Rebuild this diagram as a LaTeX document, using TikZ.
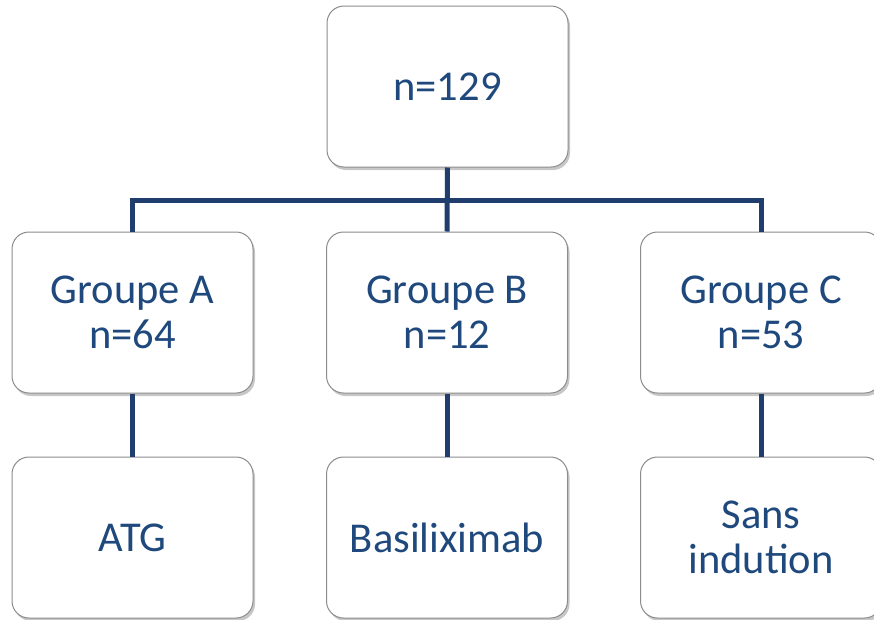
\documentclass[tikz,border=0pt]{standalone}
\usepackage{fontspec}
\setmainfont{Carlito}
\usetikzlibrary{shadows}
\definecolor{txtblue}{HTML}{1F497D}
\definecolor{lnblue}{HTML}{1F3E6E}
\definecolor{boxborder}{HTML}{8C8C8C}
\tikzset{
  card/.style={draw=boxborder, line width=1pt, fill=white, rounded corners=17pt,
    minimum width=241pt, minimum height=161pt, inner sep=0pt, align=center,
    text=txtblue, font=\fontsize{42.5}{45}\selectfont,
    drop shadow={shadow xshift=2pt, shadow yshift=-3pt, opacity=0.22, fill=black}},
  conn/.style={draw=lnblue, line width=5pt}
}
\begin{document}
\begin{tikzpicture}[x=1pt,y=-1pt]
\useasboundingbox[fill=white] (0,0) rectangle (874,619);
\node[card] (top) at (447.5,86.5) {n=129};
\node[card] (ga) at (132.5,312.5) {Groupe A\\n=64};
\node[card] (gb) at (447,312.5) {Groupe B\\n=12};
\node[card] (gc) at (761,312.5) {Groupe C\\n=53};
\node[card] (ba) at (132.5,537.5) {ATG};
\node[card] (bb) at (447,537.5) {Basiliximab};
\node[card] (bc) at (761,537.5) {Sans\\indution};
\coordinate (j) at (447,200);
\draw[conn] (top.south) -- (gb.north);
\draw[conn] (ga.north) -- (ga.north |- j) -- (gc.north |- j) -- (gc.north);
\draw[conn] (ga.south) -- (ba.north);
\draw[conn] (gb.south) -- (bb.north);
\draw[conn] (gc.south) -- (bc.north);
\end{tikzpicture}
\end{document}
